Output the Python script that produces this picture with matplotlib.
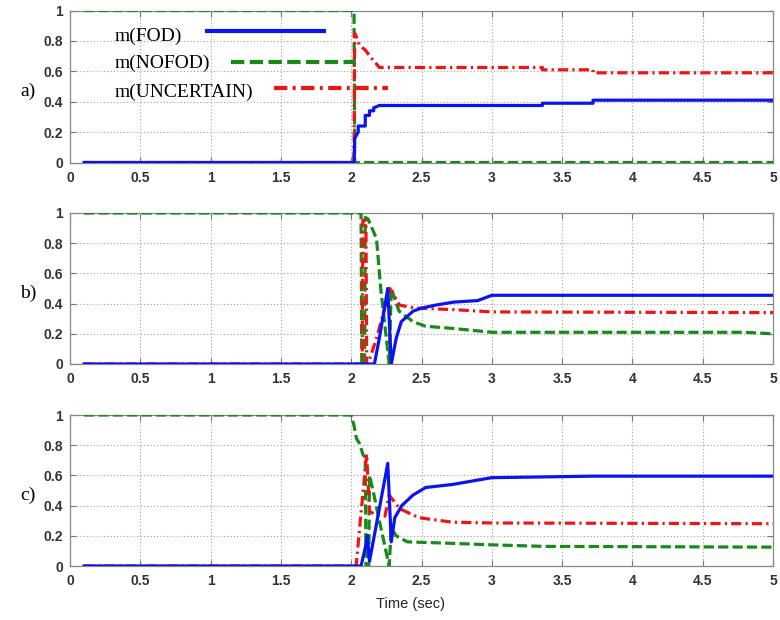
import matplotlib
matplotlib.use("Agg")
import matplotlib.pyplot as plt

# ---------------- data ----------------
# Panel a
ta_fod = [0.1, 2.02, 2.025, 2.05, 2.05, 2.1, 2.1, 2.13, 2.13, 2.16, 2.16, 2.2, 3.36, 3.36, 3.72, 3.72, 5.0]
va_fod = [0.0, 0.0, 0.16, 0.2, 0.24, 0.24, 0.31, 0.31, 0.34, 0.34, 0.36, 0.375, 0.375, 0.39, 0.39, 0.41, 0.41]
ta_nofod = [0.1, 2.02, 2.025, 5.0]
va_nofod = [1.0, 1.0, 0.0, 0.0]
ta_unc = [0.1, 2.02, 2.025, 2.04, 2.06, 2.1, 2.14, 2.17, 2.2, 3.36, 3.36, 3.72, 3.72, 5.0]
va_unc = [0.0, 0.0, 0.85, 0.82, 0.77, 0.74, 0.69, 0.66, 0.625, 0.625, 0.61, 0.61, 0.59, 0.59]

# Panel b
tb_fod = [0.1, 2.165, 2.2, 2.26, 2.285, 2.32, 2.356, 2.44, 2.5, 2.6, 2.73, 2.9, 3.0, 5.0]
vb_fod = [0.0, 0.0, 0.17, 0.5, 0.0, 0.17, 0.28, 0.35, 0.37, 0.39, 0.41, 0.42, 0.455, 0.455]
tb_nofod = [0.1, 2.07, 2.075, 2.095, 2.1, 2.12, 2.18, 2.21, 2.25, 2.27, 2.285, 2.34, 2.44, 2.53, 2.73, 3.0, 4.8, 5.0]
vb_nofod = [1.0, 1.0, 0.0, 0.0, 0.97, 0.96, 0.83, 0.5, 0.17, 0.0, 0.5, 0.35, 0.28, 0.25, 0.235, 0.21, 0.21, 0.2]
tb_unc = [0.1, 2.078, 2.083, 2.105, 2.11, 2.12, 2.18, 2.25, 2.275, 2.344, 2.46, 2.73, 3.0, 5.0]
vb_unc = [0.0, 0.0, 0.95, 0.95, 0.0, 0.0, 0.17, 0.41, 0.5, 0.39, 0.37, 0.36, 0.345, 0.34]

# Panel c
tc_fod = [0.1, 2.07, 2.1, 2.115, 2.13, 2.26, 2.285, 2.31, 2.36, 2.44, 2.53, 2.72, 3.0, 3.37, 3.72, 5.0]
vc_fod = [0.0, 0.0, 0.12, 0.2, 0.03, 0.68, 0.16, 0.32, 0.4, 0.47, 0.52, 0.54, 0.585, 0.59, 0.595, 0.595]
tc_nofod = [0.1, 2.0, 2.02, 2.037, 2.06, 2.085, 2.1, 2.105, 2.125, 2.13, 2.16, 2.2, 2.27, 2.285, 2.32, 2.4, 2.72, 3.0, 3.37, 5.0]
vc_nofod = [1.0, 1.0, 0.93, 0.845, 0.81, 0.735, 0.72, 0.0, 0.0, 0.6, 0.48, 0.3, 0.0, 0.25, 0.2, 0.16, 0.15, 0.14, 0.13, 0.125]
tc_unc = [0.1, 2.035, 2.07, 2.11, 2.13, 2.18, 2.24, 2.27, 2.344, 2.48, 2.72, 3.0, 5.0]
vc_unc = [0.0, 0.0, 0.35, 0.74, 0.36, 0.34, 0.33, 0.47, 0.38, 0.32, 0.29, 0.285, 0.28]

panels = [
    ("a)", (ta_fod, va_fod), (ta_nofod, va_nofod), (ta_unc, va_unc)),
    ("b)", (tb_fod, vb_fod), (tb_nofod, vb_nofod), (tb_unc, vb_unc)),
    ("c)", (tc_fod, vc_fod), (tc_nofod, vc_nofod), (tc_unc, vc_unc)),
]

xticks = [0, 0.5, 1, 1.5, 2, 2.5, 3, 3.5, 4, 4.5, 5]
xticklabels = ["0", "0.5", "1", "1.5", "2", "2.5", "3", "3.5", "4", "4.5", "5"]
yticks = [0, 0.2, 0.4, 0.6, 0.8, 1]
yticklabels = ["0", "0.2", "0.4", "0.6", "0.8", "1"]
legend_labels = ["m(FOD)", "m(NOFOD)", "m(UNCERTAIN)"]
xlabel = "Time (sec)"

# ---------------- style ----------------
C_FOD = "#0a14f0"
C_NOFOD = "#178a17"
C_UNC = "#f01414"
LW = 2.3
LS_FOD = "-"
LS_NOFOD = (0, (3.2, 1.3))
LS_UNC = (0, (3.2, 1.3, 0.7, 1.3))

W, H = 780, 620
fig = plt.figure(figsize=(W / 100, H / 100), dpi=100)

def frac_box(left, top, right, bottom):
    return [left / W, 1 - bottom / H, (right - left) / W, (bottom - top) / H]

RIGHT = 773
boxes = [frac_box(70, 10.5, RIGHT, 162.5),
         frac_box(70, 213, RIGHT, 364),
         frac_box(70, 415, RIGHT, 566)]

for (label, fod, nofod, unc), box in zip(panels, boxes):
    ax = fig.add_axes(box)
    ax.plot(nofod[0], nofod[1], color=C_NOFOD, lw=LW, ls=LS_NOFOD, zorder=3)
    ax.plot(unc[0], unc[1], color=C_UNC, lw=LW, ls=LS_UNC, zorder=4)
    ax.plot(fod[0], fod[1], color=C_FOD, lw=LW, ls=LS_FOD, zorder=5)
    ax.set_xlim(0, 5)
    ax.set_ylim(0, 1)
    ax.set_xticks(xticks)
    ax.set_xticklabels(xticklabels)
    ax.set_yticks(yticks)
    ax.set_yticklabels(yticklabels)
    for t in ax.get_xticklabels() + ax.get_yticklabels():
        t.set_fontfamily("Liberation Sans")
        t.set_fontsize(10)
        t.set_fontweight("bold")
        t.set_color("#333333")
    ax.tick_params(direction="in", length=4, width=0.8, color="#777777",
                   top=True, right=True, pad=5)
    ax.tick_params(axis="x", pad=6)
    ax.grid(True, ls=(0, (1, 2)), lw=0.8, color="#a0a0a0")
    for s in ax.spines.values():
        s.set_color("#888888")
        s.set_linewidth(0.9)
    pos = ax.get_position()
    fig.text(20 / W, pos.y0 + pos.height * 0.47, label,
             family="Liberation Serif", fontsize=14, va="center", ha="left")
    if label == "a)":
        tx = 0.0636
        items = [
            (legend_labels[0], 0.828, 0.195, 0.362, 0.867, C_FOD, LS_FOD),
            (legend_labels[1], 0.655, 0.229, 0.403, 0.663, C_NOFOD, LS_NOFOD),
            (legend_labels[2], 0.464, 0.290, 0.452, 0.490, C_UNC, LS_UNC),
        ]
        for txt, ty, x0, x1, ly, c, ls in items:
            ax.text(tx, ty, txt, transform=ax.transAxes, family="Liberation Serif",
                    fontsize=14, va="center", ha="left", zorder=6)
            ax.plot([x0, x1], [ly, ly], transform=ax.transAxes, color=c, lw=3.0,
                    ls=ls, zorder=6, clip_on=False)

fig.text(410 / W, 1 - 604 / H, xlabel, family="Liberation Sans", fontsize=10.5,
         ha="center", va="center", color="#222222")

fig.savefig("out.png", dpi=100)
